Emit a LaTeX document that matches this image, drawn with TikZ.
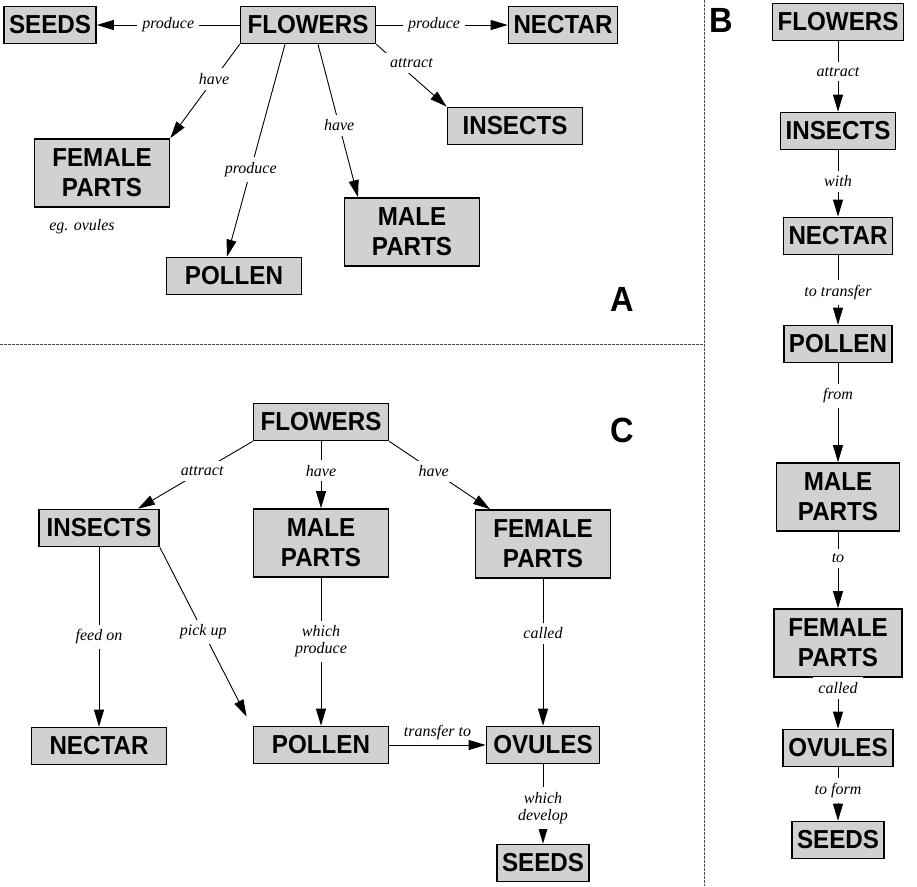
\documentclass[tikz,border=0pt]{standalone}
\usepackage{fontspec}
\setmainfont{Liberation Serif}
\newfontfamily\boxfont{Liberation Sans}[FakeStretch=0.93]
\usepackage{tikz}
\usetikzlibrary{arrows.meta}

\tikzset{
	concept/.style={draw, line width=1.7pt, fill=black!18, inner xsep=5pt, inner ysep=3pt, minimum height=37pt, align=center, font=\boxfont\bfseries\fontsize{26}{30}\selectfont},
	widebox/.style={concept, minimum width=135pt},
	tallbox/.style={minimum height=68pt},
	link/.style={line width=0.9pt, -{Triangle[length=17pt,width=10pt]}},
	phrase/.style={fill=white, inner sep=5pt, align=center, font=\itshape\fontsize{16}{17}\selectfont},
	panel/.style={inner sep=0pt, font=\boxfont\bfseries\fontsize{35}{35}\selectfont},
	divider/.style={dashed, dash pattern=on 2.5pt off 1.5pt, line width=0.6pt, black!70}
}

\begin{document}
\begin{tikzpicture}[x=1pt,y=-1pt]
		\useasboundingbox (0,0) rectangle (917,886);
		\draw[divider] (704,0) -- (704,886);
		\draw[divider] (0,344) -- (704,344);

		\node[concept] (seedsA) at (50,25) {SEEDS};
		\node[widebox] (flowersA) at (308,25) {FLOWERS};
		\node[concept] (nectarA) at (563,25) {NECTAR};
		\node[widebox] (insectsA) at (515,126) {INSECTS};
		\node[widebox, tallbox] (femaleA) at (102,173) {FEMALE\\PARTS};
		\node[widebox] (pollenA) at (234,276) {POLLEN};
		\node[widebox, tallbox] (maleA) at (412,232) {MALE\\PARTS};
		\node[phrase, fill=none] (ovulesA) at (82,227) {eg. ovules};
		\node[panel] (labelA) at (622,299) {A};
		\draw[link] (flowersA) -- node[phrase] {produce} (seedsA);
		\draw[link] (flowersA) -- node[phrase, pos=0.44] {produce} (nectarA);
		\draw[link] (flowersA.south west) -- node[phrase, pos=0.37] {have} (femaleA.north east);
		\draw[link] ([xshift=-23pt]flowersA.south) -- node[phrase, pos=0.59] {produce} ([xshift=-7pt]pollenA.north);
		\draw[link] ([xshift=10pt]flowersA.south) -- node[phrase, pos=0.53] {have} ([xshift=-54pt]maleA.north);
		\draw[link] (flowersA.south east) -- node[phrase, pos=0.3, xshift=14pt] {attract} (insectsA.north west);

		\node[panel] (labelB) at (721,20) {B};
		\node[concept] (flowersB) at (838,22) {FLOWERS};
		\node[concept] (insectsB) at (838,131) {INSECTS};
		\node[concept] (nectarB) at (838,236) {NECTAR};
		\node[concept] (pollenB) at (838,344) {POLLEN};
		\node[concept, tallbox, minimum width=123pt] (maleB) at (838,497) {MALE\\PARTS};
		\node[concept, tallbox, minimum width=128pt] (femaleB) at (838,643) {FEMALE\\PARTS};
		\node[concept] (ovulesB) at (838,748) {OVULES};
		\node[concept] (seedsB) at (838,840) {SEEDS};
		\draw[link] (flowersB) -- node[phrase, pos=0.43] {attract} (insectsB);
		\draw[link] (insectsB) -- node[phrase, pos=0.47] {with} (nectarB);
		\draw[link] (nectarB) -- node[phrase, pos=0.54] {to transfer} (pollenB);
		\draw[link] (pollenB) -- node[phrase, pos=0.33] {from} (maleB);
		\draw[link] (maleB) -- node[phrase, pos=0.35] {to} (femaleB);
		\draw[link] (femaleB) -- node[phrase, pos=0.2] {called} (ovulesB);
		\draw[link] (ovulesB) -- node[phrase, pos=0.43] {to form} (seedsB);

		\node[panel] (labelC) at (622,430) {C};
		\node[widebox] (flowersC) at (321,422) {FLOWERS};
		\node[concept, minimum width=120pt] (insectsC) at (99,528) {INSECTS};
		\node[widebox, tallbox] (maleC) at (321,543) {MALE\\PARTS};
		\node[widebox, tallbox] (femaleC) at (543,544) {FEMALE\\PARTS};
		\node[widebox] (nectarC) at (99,746) {NECTAR};
		\node[widebox] (pollenC) at (321,745) {POLLEN};
		\node[concept, minimum width=113pt] (ovulesC) at (543,745) {OVULES};
		\node[concept] (seedsC) at (543,863) {SEEDS};
		\draw[link] (flowersC.south west) -- node[phrase, pos=0.44] {attract} ([xshift=39pt]insectsC.north);
		\draw[link] (flowersC) -- node[phrase, pos=0.44] {have} (maleC);
		\draw[link] (flowersC.south east) -- node[phrase, pos=0.44] {have} ([xshift=-53pt]femaleC.north);
		\draw[link] (insectsC) -- node[phrase] {feed on} (nectarC);
		\draw[link] (insectsC.south east) -- node[phrase, pos=0.5] {pick up} ([xshift=-6pt,yshift=9pt]pollenC.north west);
		\draw[link] (maleC) -- node[phrase, pos=0.43] {which\\produce} (pollenC);
		\draw[link] (femaleC) -- node[phrase, pos=0.37] {called} (ovulesC);
		\draw[link] (pollenC) -- node[phrase, fill=none, above] {transfer to} (ovulesC);
		\draw[link] (ovulesC) -- node[phrase, pos=0.55] {which\\develop} (seedsC);
	\end{tikzpicture}
\end{document}
